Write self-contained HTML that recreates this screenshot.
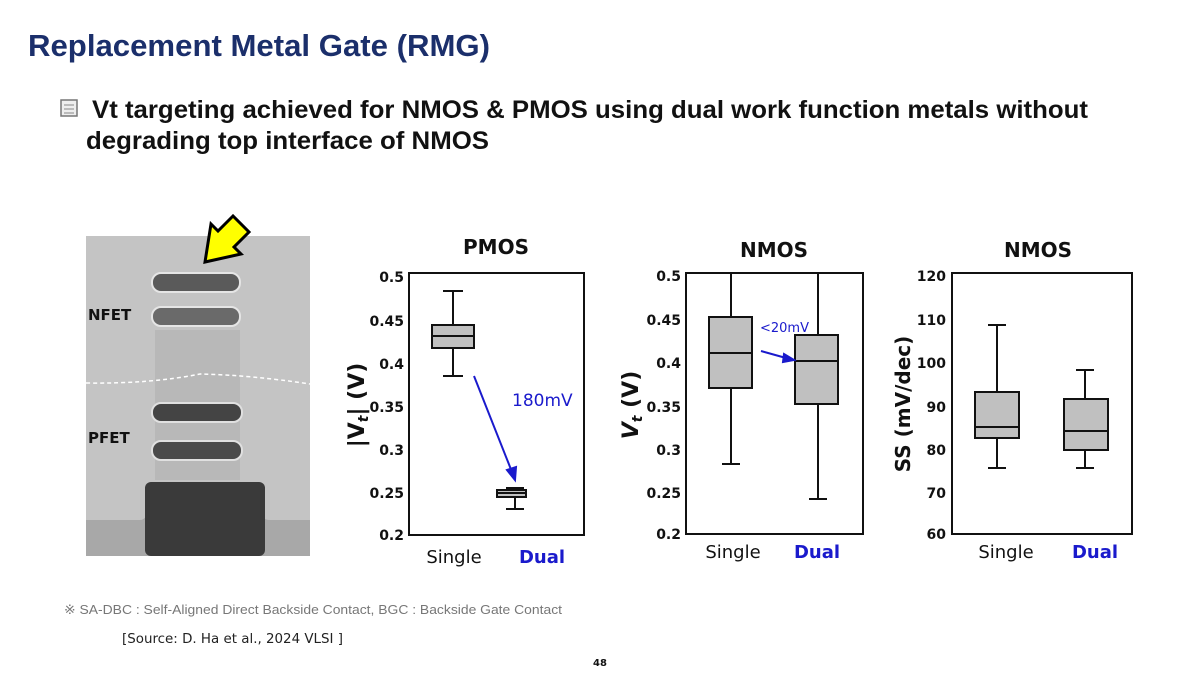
<!DOCTYPE html>
<html><head><meta charset="utf-8"><style>
body{margin:0;width:1200px;height:675px;background:#fff;overflow:hidden;font-family:"Liberation Sans","DejaVu Sans",sans-serif;}
</style></head><body>
<svg width="1200" height="675" xmlns="http://www.w3.org/2000/svg" font-family="'DejaVu Sans','Liberation Sans',sans-serif">
<text x="28" y="56" font-size="31" font-weight="bold" fill="#1b2f6b" font-family="'Liberation Sans',sans-serif" textLength="462" lengthAdjust="spacingAndGlyphs">Replacement Metal Gate (RMG)</text>
<rect x="61" y="100" width="16" height="16" fill="#eee" stroke="#777" stroke-width="1.5"/>
<line x1="64" y1="105" x2="74" y2="105" stroke="#888"/><line x1="64" y1="109" x2="74" y2="109" stroke="#888"/><line x1="64" y1="113" x2="74" y2="113" stroke="#888"/>
<text x="92" y="118" font-size="25" font-weight="bold" fill="#111" font-family="'Liberation Sans',sans-serif" textLength="996" lengthAdjust="spacingAndGlyphs">Vt targeting achieved for NMOS &amp; PMOS using dual work function metals without</text>
<text x="86" y="149" font-size="25" font-weight="bold" fill="#111" font-family="'Liberation Sans',sans-serif" textLength="403" lengthAdjust="spacingAndGlyphs">degrading top interface of NMOS</text>

<!-- TEM image -->
<rect x="86" y="236" width="224" height="320" fill="#c4c4c4"/>
<rect x="155" y="330" width="85" height="150" fill="#b8b8b8"/>
<path d="M86 520 L140 520 Q150 520 152 490 L250 490 Q255 520 270 520 L310 520 L310 556 L86 556Z" fill="#a8a8a8"/>
<rect x="145" y="482" width="120" height="74" rx="6" fill="#3a3a3a"/>
<rect x="152" y="273" width="88" height="19" rx="9" fill="#5a5a5a" stroke="#e5e5e5" stroke-width="2"/>
<rect x="152" y="307" width="88" height="19" rx="9" fill="#6a6a6a" stroke="#e5e5e5" stroke-width="2"/>
<rect x="152" y="403" width="90" height="19" rx="9" fill="#444" stroke="#e0e0e0" stroke-width="2"/>
<rect x="152" y="441" width="90" height="19" rx="9" fill="#4a4a4a" stroke="#e0e0e0" stroke-width="2"/>
<path d="M86 383 Q150 384 200 374 Q250 375 310 384" stroke="#fff" stroke-width="1.5" stroke-dasharray="4,3" fill="none"/>
<text x="88" y="320" font-size="15" font-weight="bold" fill="#111">NFET</text>
<text x="88" y="443" font-size="15" font-weight="bold" fill="#111">PFET</text>
<path d="M233 216 L218 231 L211 224 L205 262 L241 254 L234 247 L249 232Z" fill="#ffff00" stroke="#000" stroke-width="3" stroke-linejoin="miter"/>

<g font-weight="bold" font-size="14" fill="#111" text-anchor="end">
<!-- PMOS -->
<text x="496" y="254" font-size="20" text-anchor="middle">PMOS</text>
<text x="404" y="282">0.5</text><text x="404" y="326">0.45</text><text x="404" y="369">0.4</text><text x="404" y="412">0.35</text><text x="404" y="455">0.3</text><text x="404" y="498">0.25</text><text x="404" y="540">0.2</text>
<!-- NMOS -->
<text x="774" y="257" font-size="20" text-anchor="middle">NMOS</text>
<text x="681" y="281">0.5</text><text x="681" y="325">0.45</text><text x="681" y="368">0.4</text><text x="681" y="412">0.35</text><text x="681" y="455">0.3</text><text x="681" y="498">0.25</text><text x="681" y="539">0.2</text>
<!-- SS -->
<text x="1038" y="257" font-size="20" text-anchor="middle">NMOS</text>
<text x="946" y="281">120</text><text x="946" y="325">110</text><text x="946" y="368">100</text><text x="946" y="412">90</text><text x="946" y="455">80</text><text x="946" y="498">70</text><text x="946" y="539">60</text>
</g>
<text transform="translate(364,405) rotate(-90)" font-size="22" font-weight="bold" text-anchor="middle" fill="#111">|V<tspan font-style="italic" font-size="14" dy="4">t</tspan><tspan dy="-4">| (V)</tspan></text>
<text transform="translate(638,405) rotate(-90)" font-size="22" font-weight="bold" text-anchor="middle" fill="#111"><tspan font-style="italic">V</tspan><tspan font-style="italic" font-size="14" dy="4">t</tspan><tspan dy="-4"> (V)</tspan></text>
<text transform="translate(910,404) rotate(-90)" font-size="20" font-weight="bold" text-anchor="middle" fill="#111">SS (mV/dec)</text>

<g stroke="#111" stroke-width="2" fill="#c0c0c0">
<rect x="409" y="273" width="175" height="262" fill="none"/>
<line x1="453" y1="291" x2="453" y2="376"/><line x1="443" y1="291" x2="463" y2="291"/><line x1="443" y1="376" x2="463" y2="376"/>
<rect x="432" y="325" width="42" height="23"/><line x1="432" y1="336" x2="474" y2="336"/>
<line x1="515" y1="488" x2="515" y2="509"/><line x1="506" y1="488" x2="524" y2="488"/><line x1="506" y1="509" x2="524" y2="509"/>
<rect x="497" y="490" width="29" height="7"/><line x1="497" y1="493" x2="526" y2="493"/>

<rect x="686" y="273" width="177" height="261" fill="none"/>
<line x1="731" y1="273" x2="731" y2="464"/><line x1="722" y1="464" x2="740" y2="464"/>
<rect x="709" y="317" width="43" height="71"/><line x1="709" y1="353" x2="752" y2="353"/>
<line x1="818" y1="273" x2="818" y2="499"/><line x1="809" y1="499" x2="827" y2="499"/>
<rect x="795" y="335" width="43" height="69"/><line x1="795" y1="361" x2="838" y2="361"/>

<rect x="952" y="273" width="180" height="261" fill="none"/>
<line x1="997" y1="325" x2="997" y2="468"/><line x1="988" y1="325" x2="1006" y2="325"/><line x1="988" y1="468" x2="1006" y2="468"/>
<rect x="975" y="392" width="44" height="46"/><line x1="975" y1="427" x2="1019" y2="427"/>
<line x1="1085" y1="370" x2="1085" y2="468"/><line x1="1076" y1="370" x2="1094" y2="370"/><line x1="1076" y1="468" x2="1094" y2="468"/>
<rect x="1064" y="399" width="44" height="51"/><line x1="1064" y1="431" x2="1108" y2="431"/>
</g>
<g stroke="#1a1acc" stroke-width="2" fill="#1a1acc">
<line x1="474" y1="376" x2="512" y2="472"/><path d="M515 480 L507 470 L516 467Z"/>
<line x1="761" y1="351" x2="786" y2="358"/><path d="M794 360 L784 354 L783 362Z"/>
</g>
<text x="512" y="406" font-size="17" fill="#1a1acc">180mV</text>
<text x="760" y="332" font-size="13" fill="#1a1acc">&lt;20mV</text>
<g font-size="18" text-anchor="middle">
<text x="454" y="563" fill="#111">Single</text><text x="542" y="563" fill="#1a1acc" font-weight="bold">Dual</text>
<text x="733" y="558" fill="#111">Single</text><text x="817" y="558" fill="#1a1acc" font-weight="bold">Dual</text>
<text x="1006" y="558" fill="#111">Single</text><text x="1095" y="558" fill="#1a1acc" font-weight="bold">Dual</text>
</g>
<text x="64" y="614" font-size="13" fill="#777" font-family="'Liberation Sans',sans-serif" textLength="498" lengthAdjust="spacingAndGlyphs">※ SA-DBC : Self-Aligned Direct Backside Contact,  BGC : Backside Gate Contact</text>
<text x="122" y="643" font-size="13" fill="#222" textLength="221" lengthAdjust="spacingAndGlyphs">[Source: D. Ha et al., 2024 VLSI ]</text>
<text x="600" y="666" font-size="10" font-weight="bold" fill="#111" text-anchor="middle">48</text>
</svg>
</body></html>
